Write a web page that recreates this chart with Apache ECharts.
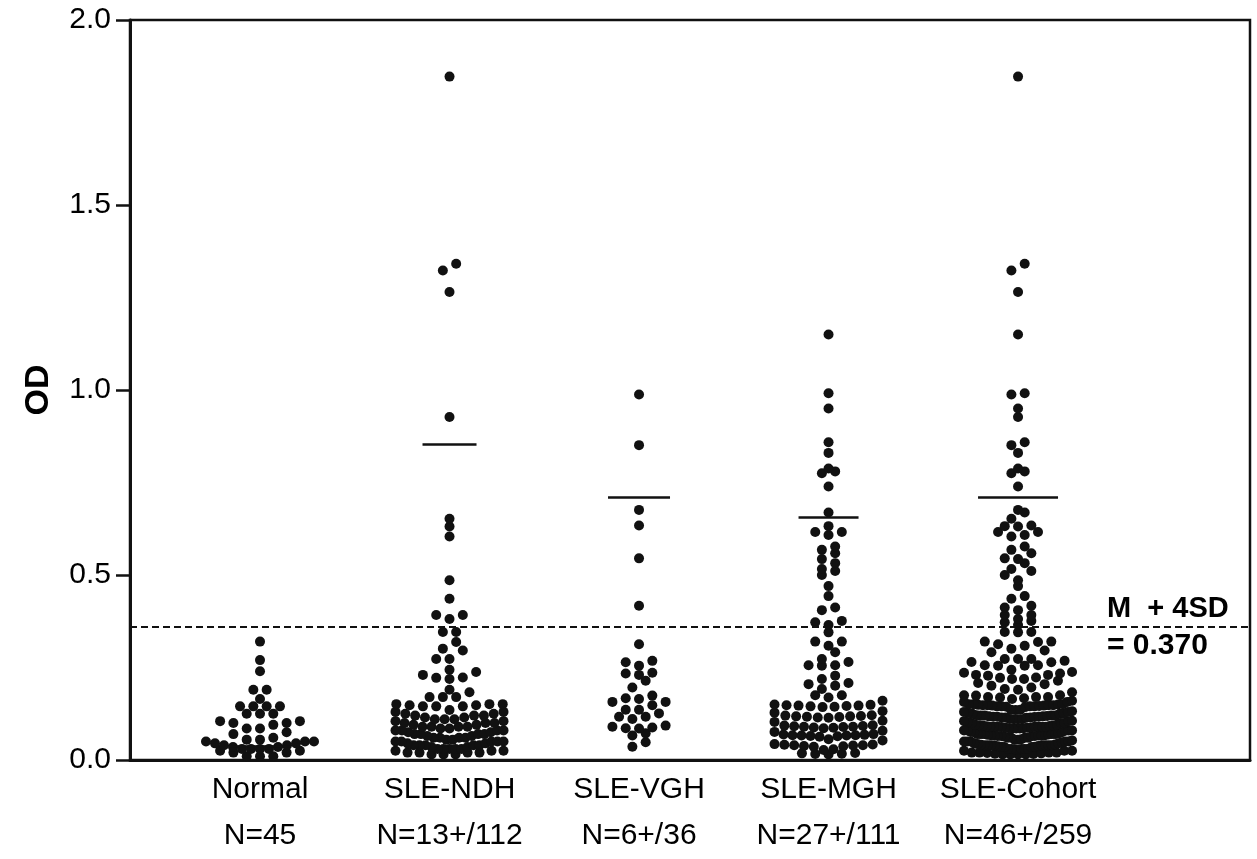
<!DOCTYPE html>
<html>
<head>
<meta charset="utf-8">
<script src="https://cdn.jsdelivr.net/npm/echarts@6/dist/echarts.min.js"></script>
<style>html,body{margin:0;padding:0;background:#fff;}#chart{width:1257px;height:859px;}</style>
</head>
<body>
<div id="chart"></div>
<script>
// ---------------- data ----------------
const categories = ['Normal', 'SLE-NDH', 'SLE-VGH', 'SLE-MGH', 'SLE-Cohort'];
const countLabels = ['N=45', 'N=13+/112', 'N=6+/36', 'N=27+/111', 'N=46+/259'];
const yTicks = [0, 0.5, 1.0, 1.5, 2.0];

const normal = [0.32, 0.27, 0.24, 0.19, 0.19, 0.165, 0.145, 0.145, 0.145, 0.145,
  0.125, 0.125, 0.125, 0.105, 0.105, 0.10, 0.10, 0.095, 0.085, 0.085,
  0.075, 0.07, 0.06, 0.055, 0.055, 0.05, 0.05, 0.05, 0.045, 0.045,
  0.04, 0.04, 0.035, 0.035, 0.03, 0.03, 0.03, 0.03, 0.025, 0.025,
  0.02, 0.02, 0.01, 0.01, 0.01];

const ndh = [1.847, 1.341, 1.323, 1.265, 0.927, 0.652, 0.631, 0.604, 0.486, 0.436,
  0.392, 0.392, 0.381, 0.346, 0.346, 0.319, 0.301, 0.296, 0.273, 0.273,
  0.244, 0.238, 0.230, 0.223, 0.222, 0.219, 0.19, 0.183, 0.17, 0.17,
  0.17, 0.151, 0.151, 0.148, 0.145, 0.145, 0.145, 0.148, 0.151,
  0.135, 0.13, 0.13, 0.125, 0.125, 0.12, 0.12, 0.12, 0.115, 0.115,
  0.11, 0.11, 0.11, 0.105, 0.105, 0.10, 0.10, 0.10, 0.095, 0.095,
  0.09, 0.09, 0.09, 0.09, 0.085, 0.085, 0.08, 0.08, 0.08, 0.08,
  0.075, 0.075, 0.07, 0.07, 0.07, 0.07, 0.065, 0.065, 0.06, 0.06,
  0.06, 0.06, 0.055, 0.055, 0.05, 0.05, 0.05, 0.05, 0.05, 0.045,
  0.045, 0.04, 0.04, 0.04, 0.04, 0.04, 0.035, 0.035, 0.03, 0.03,
  0.03, 0.03, 0.03, 0.025, 0.025, 0.025, 0.02, 0.02, 0.02, 0.02,
  0.015, 0.015, 0.015];

const vgh = [0.988, 0.851, 0.676, 0.634, 0.545, 0.417, 0.313, 0.268, 0.264, 0.255,
  0.236, 0.234, 0.230, 0.214, 0.196, 0.174, 0.167, 0.165, 0.157, 0.157,
  0.148, 0.136, 0.136, 0.126, 0.117, 0.117, 0.111, 0.093, 0.090, 0.088,
  0.086, 0.085, 0.072, 0.066, 0.048, 0.036];

const mgh = [1.150, 0.991, 0.950, 0.859, 0.830, 0.788, 0.780, 0.775, 0.739, 0.669,
  0.632, 0.616, 0.616, 0.608, 0.577, 0.568, 0.559, 0.543, 0.532, 0.516,
  0.511, 0.500, 0.470, 0.443, 0.412, 0.405, 0.376, 0.372, 0.365, 0.345,
  0.320, 0.320, 0.309, 0.291, 0.273, 0.265, 0.256, 0.256, 0.255, 0.228,
  0.219, 0.208, 0.205, 0.201, 0.192, 0.175, 0.175, 0.169, 0.160,
  0.150, 0.149, 0.148, 0.147, 0.147, 0.146, 0.145, 0.144, 0.143, 0.132, 0.128,
  0.121, 0.120, 0.119, 0.118, 0.118, 0.117, 0.116, 0.115, 0.114, 0.106, 0.103,
  0.094, 0.093, 0.092, 0.091, 0.090, 0.090, 0.089, 0.088, 0.087, 0.086, 0.079, 0.076,
  0.070, 0.069, 0.068, 0.067, 0.067, 0.066, 0.066, 0.065, 0.064, 0.063, 0.056, 0.053,
  0.043, 0.042, 0.041, 0.040, 0.040, 0.039, 0.038, 0.037, 0.036, 0.029, 0.027,
  0.019, 0.018, 0.017, 0.016, 0.015];

// SLE-Cohort is the union of the three SLE groups (112 + 36 + 111 = 259)
const cohort = [].concat(ndh, vgh, mgh);

const groups = [normal, ndh, vgh, mgh, cohort];
const meanLines = [0.038, 0.853, 0.709, 0.655, 0.709];
const cutoff = 0.362;

// ---------------- layout ----------------
const GRID = {left: 130, right: 7, top: 20, bottom: 98};
const X_MIN = -0.686, X_MAX = 5.224;
const PX_X = (1257 - GRID.left - GRID.right) / (X_MAX - X_MIN);
const PX_Y = (859 - GRID.top - GRID.bottom) / (yTicks[yTicks.length - 1] - yTicks[0]);
const DOT = 10;
const meanHalfPx = [31, 27, 31, 30, 40];

function swarm(vals, center) {
  const binH = DOT / PX_Y;
  const bins = {};
  vals.slice().sort((a, b) => a - b).forEach(v => {
    const k = Math.floor(v / binH);
    (bins[k] = bins[k] || []).push(v);
  });
  const out = [];
  Object.keys(bins).forEach(k => {
    const arr = bins[k];
    const n = arr.length;
    let sp = 13.3 / PX_X;
    const maxW = 108 / PX_X;
    if (n > 1 && (n - 1) * sp > maxW) sp = maxW / (n - 1);
    const slots = [];
    for (let i = 0; i < n; i++) slots.push((i - (n - 1) / 2) * sp);
    slots.sort((a, b) => Math.abs(a) - Math.abs(b) || a - b);
    arr.forEach((v, i) => out.push([center + slots[i], v]));
  });
  return out;
}

const FONT = '"Liberation Sans", Arial, Helvetica, sans-serif';
const INK = '#111111';

const series = groups.map((g, i) => ({
  type: 'scatter',
  data: swarm(g, i),
  symbol: 'circle',
  symbolSize: DOT,
  itemStyle: {color: INK, opacity: 1},
  silent: true,
  z: 3,
  markLine: {
    silent: true,
    symbol: ['none', 'none'],
    lineStyle: {color: INK, width: 2.5, type: 'solid', opacity: 1},
    label: {show: false},
    data: [[{coord: [i - meanHalfPx[i] / PX_X, meanLines[i]]}, {coord: [i + meanHalfPx[i] / PX_X, meanLines[i]]}]]
  }
}));

series.push({
  type: 'scatter',
  data: [],
  markLine: {
    silent: true,
    symbol: ['none', 'none'],
    lineStyle: {color: INK, width: 2, type: [7, 4], opacity: 1},
    label: {show: false},
    data: [{yAxis: cutoff}]
  }
});

const chart = echarts.init(document.getElementById('chart'), null, {renderer: 'canvas'});
chart.setOption({
  animation: false,
  backgroundColor: '#ffffff',
  grid: Object.assign({show: true, borderColor: INK, borderWidth: 2.5, backgroundColor: 'transparent'}, GRID),
  xAxis: {
    type: 'value',
    min: X_MIN,
    max: X_MAX,
    axisLine: {show: true, onZero: false, lineStyle: {color: INK, width: 3}},
    axisTick: {show: false},
    splitLine: {show: false},
    axisLabel: {
      customValues: [0, 1, 2, 3, 4],
      formatter: v => categories[Math.round(v)] + '\n' + countLabels[Math.round(v)],
      color: '#000',
      fontFamily: FONT,
      fontSize: 30,
      lineHeight: 46,
      margin: 7
    }
  },
  yAxis: {
    type: 'value',
    min: 0,
    max: 2,
    interval: 0.5,
    name: 'OD',
    nameLocation: 'middle',
    nameRotate: 90,
    nameGap: 74,
    nameTextStyle: {color: '#000', fontFamily: FONT, fontSize: 34, fontWeight: 'bold'},
    axisLine: {show: true, onZero: false, lineStyle: {color: INK, width: 3}},
    axisTick: {show: true, inside: false, length: 14, lineStyle: {color: INK, width: 2.5}},
    splitLine: {show: false},
    axisLabel: {
      formatter: v => v.toFixed(1),
      color: '#000',
      fontFamily: FONT,
      fontSize: 30,
      margin: 19
    }
  },
  graphic: [
    {type: 'text', left: 1107, top: 594, z: 10,
     style: {text: 'M  + 4SD', fill: '#000', font: 'bold 29px ' + FONT}},
    {type: 'text', left: 1107, top: 631, z: 10,
     style: {text: '= 0.370', fill: '#000', font: 'bold 30px ' + FONT}}
  ],
  series: series
});
</script>
</body>
</html>
